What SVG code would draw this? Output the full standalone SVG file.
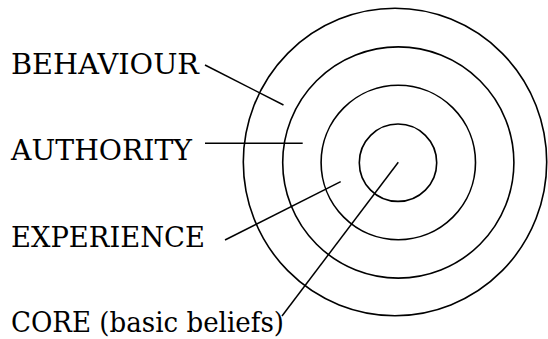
<svg xmlns="http://www.w3.org/2000/svg" width="548" height="339" viewBox="0 0 548 339">
<style>
.ring{fill:none;stroke:#000;stroke-width:1.6}
.lead{stroke:#000;stroke-width:1.5;fill:none}
.lbl{font-family:'DejaVu Serif',serif;font-size:28px;fill:#000}
</style>
<rect width="548" height="339" fill="#fff"/>
<g id="rings">
<ellipse id="ring-behaviour" class="ring" cx="395" cy="162" rx="151.7" ry="153.7"/>
<circle id="ring-authority" class="ring" cx="398.3" cy="162.5" r="115.6"/>
<circle id="ring-experience" class="ring" cx="398.3" cy="162.5" r="77.2"/>
<circle id="ring-core" class="ring" cx="398" cy="162.7" r="38.7"/>
</g>
<g id="connectors">
<line class="lead" x1="205" y1="65" x2="283.5" y2="105"/>
<line class="lead" x1="205" y1="143.3" x2="302.7" y2="143.3"/>
<line class="lead" x1="225" y1="240" x2="340.7" y2="181.7"/>
<line class="lead" x1="282" y1="316" x2="398.3" y2="162.3"/>
</g>
<g id="label-behaviour"><text class="lbl" x="11" y="73.5" textLength="188" lengthAdjust="spacingAndGlyphs">BEHAVIOUR</text></g>
<g id="label-authority"><text class="lbl" x="11" y="160" textLength="181" lengthAdjust="spacingAndGlyphs">AUTHORITY</text></g>
<g id="label-experience"><text class="lbl" x="11" y="247" textLength="194" lengthAdjust="spacingAndGlyphs">EXPERIENCE</text></g>
<g id="label-core"><text class="lbl" x="11" y="332" textLength="273" lengthAdjust="spacingAndGlyphs">CORE (basic beliefs)</text></g>
</svg>
